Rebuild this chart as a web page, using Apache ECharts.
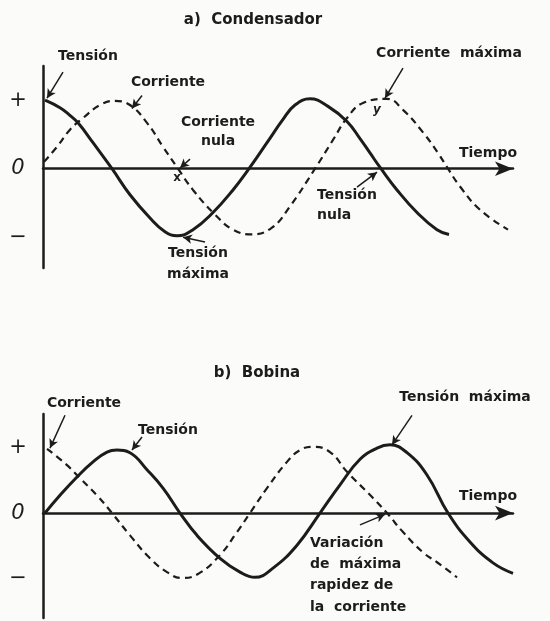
<!DOCTYPE html>
<html>
<head>
<meta charset="utf-8">
<script src="https://cdn.jsdelivr.net/npm/echarts@6/dist/echarts.min.js"></script>
<style>
html,body{margin:0;padding:0;background:#fbfbf9;}
#chart{width:550px;height:621px;}
</style>
</head>
<body>
<div id="chart"></div>
<script>
// ---- data (time in arbitrary units, amplitude: + = 1, − = -1) ----
// a) Condensador
const tensionA_t = [2,17,26,35,50,69,87,107,122,134,150,170,190,206,224,240,252,267,285,304,317,327,338,354,374,394,406];
const tensionA_v = [1.0,0.89,0.79,0.67,0.38,0,-0.38,-0.72,-0.92,-0.98,-0.89,-0.64,-0.31,0,0.38,0.72,0.93,1.02,0.91,0.69,0.44,0.23,0,-0.31,-0.64,-0.89,-0.96];
const corrienteA_t = [1,14,27,40,57,72,87,104,120,135,150,172,190,209,229,247,272,290,304,320,344,360,380,395,405,417,437,465];
const corrienteA_v = [0.10,0.32,0.57,0.74,0.93,0.99,0.93,0.67,0.32,0,-0.31,-0.67,-0.89,-0.96,-0.86,-0.55,0,0.42,0.74,0.96,1.02,0.86,0.53,0.23,0,-0.26,-0.6,-0.89];
// b) Bobina
const tensionB_t = [2,17,34,50,64,74,87,104,120,137,154,177,197,212,230,254,277,297,317,334,347,364,384,405,427,450,470];
const tensionB_v = [0,0.27,0.55,0.78,0.93,0.96,0.92,0.66,0.38,0,-0.34,-0.69,-0.9,-0.98,-0.84,-0.49,0,0.43,0.82,0.99,1.04,0.92,0.58,0,-0.44,-0.76,-0.92];
const corrienteB_t = [4,24,37,54,69,87,107,124,139,156,177,194,207,224,244,257,270,287,304,330,344,360,380,394,414];
const corrienteB_v = [0.98,0.73,0.53,0.27,0,-0.34,-0.69,-0.9,-0.99,-0.92,-0.64,-0.29,0,0.38,0.78,0.96,1.01,0.93,0.63,0.23,0,-0.29,-0.6,-0.75,-0.98];

// tick labels of the amplitude axis
const yTickValues = [1, 0, -1];
const yTickLabels = ['+', '0', '−'];

// annotation arrows (data coordinates: [from, to])
const arrowsA = [
  [[20,1.41],[4,1.03]],
  [[99,1.07],[89,0.88]],
  [[147,0.14],[137,0.01]],
  [[162,-1.07],[140,-1.0]],
  [[360,1.47],[342,1.03]],
  [[314,-0.27],[334,-0.05]]
];
const arrowsB = [
  [[22,1.49],[7,0.99]],
  [[99,1.16],[89,0.96]],
  [[369,1.49],[349,1.04]],
  [[317,-0.18],[342,-0.02]]
];

const ink = '#1c1c1c';
const zip = (t, v) => t.map((x, i) => [x, v[i]]);

const font = 'bold 14px "DejaVu Sans"';
const titleFont = 'bold 15px "DejaVu Sans"';
const texts = [
  {text:'a)  Condensador', x:253, y:20, align:'center', f:titleFont},
  {text:'Tensión', x:88, y:56, align:'center'},
  {text:'Corriente', x:168, y:82, align:'center'},
  {text:'Corriente\nnula', x:218, y:132, align:'center', lh:19},
  {text:'x', x:177, y:178, align:'center', f:'bold 12px "DejaVu Sans"'},
  {text:'Tensión\nmáxima', x:198, y:264, align:'center', lh:21},
  {text:'Corriente  máxima', x:449, y:53, align:'center'},
  {text:'y', x:377, y:110, align:'center', f:'bold italic 12px "DejaVu Sans"'},
  {text:'Tiempo', x:488, y:153, align:'center'},
  {text:'Tensión\nnula', x:317, y:205, align:'left', lh:20},
  {text:'b)  Bobina', x:257, y:373, align:'center', f:titleFont},
  {text:'Corriente', x:84, y:403, align:'center'},
  {text:'Tensión', x:168, y:430, align:'center'},
  {text:'Tensión  máxima', x:465, y:397, align:'center'},
  {text:'Tiempo', x:488, y:496, align:'center'},
  {text:'Variación\nde  máxima\nrapidez de\nla  corriente', x:310, y:575, align:'left', lh:21.3}
];

function makeX(gi){
  return {
    type:'value', gridIndex:gi, min:0, max:470,
    axisLine:{show:true, onZero:true, symbol:['none','arrow'], symbolSize:[11,18], lineStyle:{color:ink, width:2.5}},
    axisTick:{show:false}, axisLabel:{show:false}, splitLine:{show:false}
  };
}
function makeY(gi, min, max){
  return {
    type:'value', gridIndex:gi, min:min, max:max,
    axisLine:{show:true, lineStyle:{color:ink, width:2.5}},
    axisTick:{show:false}, splitLine:{show:false},
    axisLabel:{
      show:true, customValues:yTickValues, margin:25, align:'center',
      color:ink, fontSize:21, fontFamily:'DejaVu Sans', fontStyle:'italic',
      formatter:(v)=>{const i = yTickValues.indexOf(v); return i>=0 ? yTickLabels[i] : '';}
    }
  };
}
function arrowLines(list){
  return {
    silent:true, symbol:['none','arrow'], symbolSize:[7,9], animation:false,
    label:{show:false}, emphasis:{disabled:true},
    lineStyle:{color:ink, width:1.5, type:'solid'},
    data:list.map(a=>[{coord:a[0]},{coord:a[1]}])
  };
}

const chart = echarts.init(document.getElementById('chart'));
chart.setOption({
  backgroundColor:'#fbfbf9',
  animation:false,
  grid:[
    {left:43, top:66, width:470, height:202},
    {left:43, top:414, width:470, height:204}
  ],
  xAxis:[makeX(0), makeX(1)],
  yAxis:[makeY(0,-1.45,1.5), makeY(1,-1.6,1.51)],
  series:[
    {name:'Tensión', type:'line', xAxisIndex:0, yAxisIndex:0, data:zip(tensionA_t,tensionA_v),
      smooth:0.45, showSymbol:false, lineStyle:{color:ink, width:3}, markLine:arrowLines(arrowsA)},
    {name:'Corriente', type:'line', xAxisIndex:0, yAxisIndex:0, data:zip(corrienteA_t,corrienteA_v),
      smooth:0.45, showSymbol:false, lineStyle:{color:ink, width:2.2, type:[7,5]}},
    {name:'Tensión', type:'line', xAxisIndex:1, yAxisIndex:1, data:zip(tensionB_t,tensionB_v),
      smooth:0.45, showSymbol:false, lineStyle:{color:ink, width:3}, markLine:arrowLines(arrowsB)},
    {name:'Corriente', type:'line', xAxisIndex:1, yAxisIndex:1, data:zip(corrienteB_t,corrienteB_v),
      smooth:0.45, showSymbol:false, lineStyle:{color:ink, width:2.2, type:[7,5]}}
  ],
  graphic:texts.map(t=>({
    type:'text', silent:true,
    style:{text:t.text, x:t.x, y:t.y, font:t.f||font, fill:ink,
      textAlign:t.align, textVerticalAlign:'middle', lineHeight:t.lh||16}
  }))
});
</script>
</body>
</html>
